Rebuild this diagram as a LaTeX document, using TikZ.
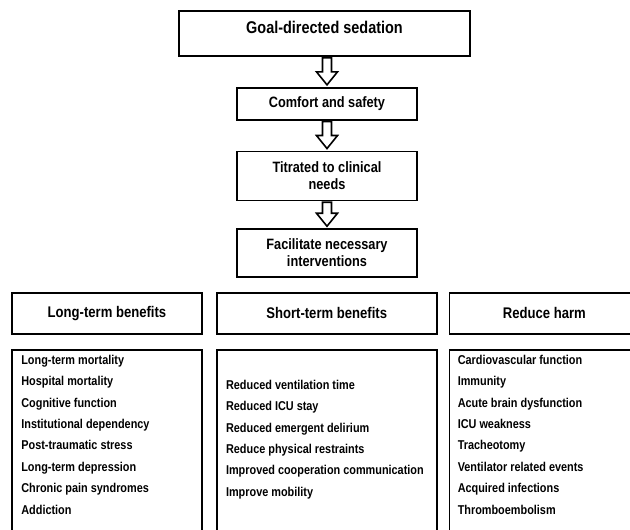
\documentclass[tikz,border=0pt]{standalone}
\usepackage{fontspec}
\setmainfont{Liberation Sans}[FakeStretch=0.85]
\usetikzlibrary{positioning, calc}

% hollow block arrow from one box down to the next
\newcommand{\hollowdown}[2]{%
  \draw[hollow] ($(#1.south -| #2.north)+(-4.5,-1)$) -- ($(#2.north)+(-4.5,15)$) -- ++(-6,0)
    -- ($(#2.north)+(0,2)$) -- ($(#2.north)+(10.5,15)$) -- ++(-6,0)
    -- ($(#1.south -| #2.north)+(4.5,-1)$) -- cycle;}

\begin{document}
\begin{tikzpicture}[x=1pt, y=1pt,
            flowbox/.style={draw=black, line width=1.7pt, rectangle, minimum width=180pt, align=center, font=\fontsize{15}{17}\selectfont\bfseries},
            headbox/.style={draw=black, line width=1.7pt, rectangle, minimum height=41pt, font=\fontsize{15.4}{17}\selectfont\bfseries},
            listbox/.style={draw=black, line width=1.7pt, rectangle, minimum height=190pt},
            itemlist/.style={anchor=north west, inner sep=0pt, align=left, font=\fontsize{12.8}{21.4}\selectfont\bfseries},
            hollow/.style={draw=black, line width=1.6pt, fill=white, line join=miter}
        ]

        \useasboundingbox (0,0) rectangle (630,530);
        \clip (0,0) rectangle (630,530);

        % flow
        \node[flowbox, minimum width=291pt, minimum height=45pt, text height=12pt, text depth=11pt, font=\fontsize{17}{18}\selectfont\bfseries] (goal) at (324.5,496.5) {Goal-directed sedation};
        \node[flowbox, minimum height=32pt, below=30pt of goal, xshift=2.5pt] (comfort) {Comfort and safety};
        \node[flowbox, minimum height=49pt, below=30pt of comfort] (titrated) {Titrated to clinical\\needs};
        \node[flowbox, minimum height=48pt, below=27pt of titrated] (facilitate) {Facilitate necessary\\interventions};

        % arrows
        \hollowdown{goal}{comfort}
        \hollowdown{comfort}{titrated}
        \hollowdown{titrated}{facilitate}

        % categories
        \node[headbox, minimum width=190pt] (longhead) at (107,216.5) {Long-term benefits};
        \node[headbox, minimum width=220pt, right=13pt of longhead] (shorthead) {Short-term benefits};
        \node[headbox, minimum width=190pt, right=11pt of shorthead] (harmhead) {Reduce harm};

        \node[listbox, minimum width=190pt, below=14pt of longhead] (longbox) {};
        \node[listbox, minimum width=220pt, below=14pt of shorthead] (shortbox) {};
        \node[listbox, minimum width=190pt, below=14pt of harmhead] (harmbox) {};

        % lists
        \node[itemlist] (longlist) at ([xshift=10pt, yshift=-6pt]longbox.north west) {Long-term mortality\\Hospital mortality\\Cognitive function\\Institutional dependency\\Post-traumatic stress\\Long-term depression\\Chronic pain syndromes\\Addiction};
        \node[itemlist] (shortlist) at ([xshift=10pt, yshift=-31pt]shortbox.north west) {Reduced ventilation time\\Reduced ICU stay\\Reduced emergent delirium\\Reduce physical restraints\\Improved cooperation communication\\Improve mobility};
        \node[itemlist] (harmlist) at ([xshift=9pt, yshift=-6pt]harmbox.north west) {Cardiovascular function\\Immunity\\Acute brain dysfunction\\ICU weakness\\Tracheotomy\\Ventilator related events\\Acquired infections\\Thromboembolism};

    \end{tikzpicture}
\end{document}
